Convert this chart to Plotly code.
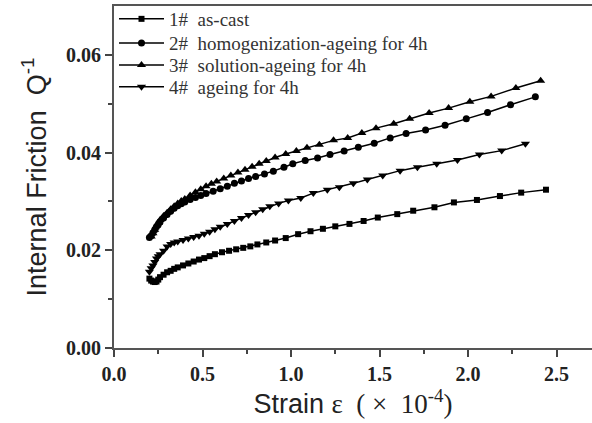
import plotly.graph_objects as go

names = ["1#  as-cast", "2#  homogenization-ageing for 4h",
         "3#  solution-ageing for 4h", "4#  ageing for 4h"]

x1 = [0.20,0.21,0.22,0.23,0.24,0.25,0.26,0.28,0.30,0.32,0.34,0.36,0.39,0.42,0.45,0.48,0.51,0.54,0.57,0.61,0.65,0.69,0.73,0.77,0.81,0.86,0.91,0.97,1.04,1.11,1.18,1.25,1.33,1.41,1.49,1.60,1.69,1.81,1.92,2.05,2.18,2.30,2.44]
y1 = [0.0142,0.0138,0.0136,0.0135,0.0136,0.0140,0.0145,0.0150,0.0155,0.0158,0.0162,0.0165,0.0169,0.0173,0.0177,0.0181,0.0184,0.0188,0.0192,0.0196,0.0199,0.0202,0.0205,0.0208,0.0212,0.0216,0.0220,0.0225,0.0233,0.0239,0.0244,0.0249,0.0254,0.0260,0.0267,0.0274,0.0281,0.0288,0.0298,0.0303,0.0311,0.0318,0.0324]

x2 = [0.20,0.21,0.22,0.23,0.24,0.25,0.26,0.28,0.30,0.32,0.34,0.36,0.38,0.40,0.43,0.46,0.49,0.52,0.56,0.60,0.64,0.68,0.72,0.76,0.80,0.85,0.90,0.96,1.01,1.08,1.15,1.22,1.30,1.38,1.47,1.56,1.65,1.76,1.87,1.99,2.11,2.24,2.38]
y2 = [0.0226,0.0230,0.0236,0.0242,0.0248,0.0253,0.0258,0.0266,0.0273,0.0280,0.0286,0.0291,0.0295,0.0299,0.0304,0.0308,0.0312,0.0316,0.0321,0.0326,0.0331,0.0337,0.0342,0.0347,0.0351,0.0356,0.0362,0.0370,0.0377,0.0384,0.0389,0.0396,0.0403,0.0411,0.0419,0.0430,0.0439,0.0446,0.0456,0.0469,0.0482,0.0498,0.0514]

x3 = [0.21,0.22,0.23,0.24,0.25,0.26,0.28,0.30,0.32,0.34,0.36,0.38,0.40,0.43,0.46,0.49,0.52,0.55,0.58,0.62,0.66,0.70,0.74,0.78,0.82,0.86,0.91,0.97,1.03,1.09,1.16,1.24,1.32,1.40,1.48,1.58,1.67,1.78,1.89,2.01,2.13,2.27,2.41]
y3 = [0.0228,0.0235,0.0242,0.0250,0.0256,0.0262,0.0270,0.0277,0.0284,0.0290,0.0296,0.0301,0.0305,0.0312,0.0319,0.0325,0.0331,0.0336,0.0341,0.0347,0.0353,0.0359,0.0365,0.0371,0.0377,0.0383,0.0390,0.0397,0.0403,0.0410,0.0416,0.0425,0.0430,0.0440,0.0450,0.0459,0.0469,0.0481,0.0491,0.0504,0.0515,0.0532,0.0547]

x4 = [0.20,0.21,0.22,0.23,0.24,0.25,0.26,0.28,0.30,0.32,0.34,0.36,0.39,0.42,0.45,0.48,0.51,0.54,0.57,0.60,0.64,0.68,0.72,0.76,0.80,0.84,0.88,0.93,0.985,1.055,1.126,1.205,1.273,1.352,1.431,1.518,1.616,1.714,1.823,1.940,2.064,2.190,2.324]
y4 = [0.0156,0.0163,0.0169,0.0176,0.0183,0.0188,0.0192,0.0199,0.0208,0.0213,0.0216,0.0218,0.0221,0.0224,0.0227,0.0230,0.0234,0.0238,0.0243,0.0248,0.0254,0.0260,0.0266,0.0272,0.0278,0.0284,0.0290,0.0296,0.0302,0.0307,0.0317,0.0324,0.0329,0.0337,0.0345,0.0353,0.0363,0.0370,0.0377,0.0385,0.0396,0.0404,0.0418]

xs = [x1, x2, x3, x4]
ys = [y1, y2, y3, y4]
symbols = ["square", "circle", "triangle-up", "triangle-down"]
msizes = [6, 7, 8, 8]
legend_ids = ["legend", "legend2", "legend3", "legend4"]
legend_y = [0.962, 0.889, 0.825, 0.761]

fig = go.Figure()
for n, x, y, s, ms, lg in zip(names, xs, ys, symbols, msizes, legend_ids):
    fig.add_trace(go.Scatter(
        x=x, y=y, name=n, mode="lines+markers", legend=lg,
        line=dict(color="black", width=1.5),
        marker=dict(symbol=s, size=ms, color="black"),
    ))

legfont = dict(family="Liberation Serif", size=19, color="#333")
leg_layout = {}
for lg, ly in zip(legend_ids, legend_y):
    leg_layout[lg] = dict(x=0.0, y=ly, xanchor="left", yanchor="middle",
                          bgcolor="rgba(0,0,0,0)", font=legfont, itemwidth=45)

tf = dict(family="Liberation Serif", size=20, color="#222", weight="bold")
fig.update_layout(
    width=592, height=423,
    margin=dict(l=114, r=0, t=5, b=75),
    paper_bgcolor="white", plot_bgcolor="white",
    showlegend=True,
    **leg_layout,
    xaxis=dict(range=[0, 2.70], tickvals=[0, 0.5, 1.0, 1.5, 2.0, 2.5],
               tickformat=".1f", ticks="outside", ticklen=7, tickwidth=1.5,
               tickcolor="#444",
               minor=dict(tickvals=[0.25, 0.75, 1.25, 1.75, 2.25], ticks="outside",
                          ticklen=4, tickwidth=1.5, tickcolor="#444"),
               showline=True, linecolor="#555", linewidth=2, mirror=True,
               showgrid=False, zeroline=False,
               tickfont=tf,
               title=dict(text="Strain <span style='font-family:Liberation Serif'>ε&nbsp;&nbsp;(&nbsp;×&nbsp;&nbsp;10<sup>-4</sup>)</span>",
                          font=dict(family="Liberation Sans", size=27, color="#222"),
                          standoff=3)),
    yaxis=dict(range=[0, 0.07], tickvals=[0, 0.02, 0.04, 0.06],
               tickformat=".2f", ticks="outside", ticklen=7, tickwidth=1.5,
               tickcolor="#444",
               minor=dict(tickvals=[0.01, 0.03, 0.05], ticks="outside",
                          ticklen=4, tickwidth=1.5, tickcolor="#444"),
               showline=True, linecolor="#555", linewidth=2,
               showgrid=False, zeroline=False,
               tickfont=tf,
               title=dict(text="Internal Friction  Q<sup>-1</sup>",
                          font=dict(family="Liberation Sans", size=27, color="#222"),
                          standoff=12)),
)

fig.write_html("out.html")
